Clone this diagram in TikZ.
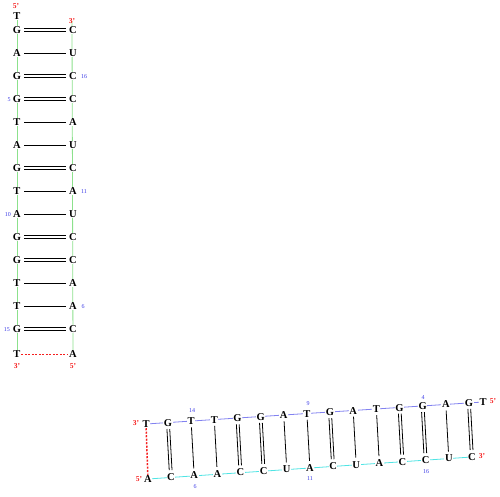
\documentclass[tikz,border=0pt]{standalone}
\usepackage{fontspec}
\setmainfont{Liberation Serif}
\usetikzlibrary{backgrounds}
\definecolor{strandgreen}{RGB}{140,225,140}
\definecolor{strandblue}{RGB}{130,130,240}
\definecolor{strandcyan}{RGB}{80,228,228}
\definecolor{lblblue}{RGB}{60,60,230}
\definecolor{primered}{RGB}{245,30,30}
\begin{document}
\begin{tikzpicture}[x=1pt,y=-1pt,
  base/.style={font=\fontsize{10.5}{12}\selectfont\bfseries, fill=white, inner sep=0.6pt},
  prime/.style={font=\fontsize{7.5}{8}\selectfont\bfseries, text=primered, inner sep=0pt},
  num/.style={font=\fontsize{6}{7}\selectfont, text=lblblue, inner sep=0pt},
  bondH/.style={black, line width=0.8pt, shorten <=7pt, shorten >=7pt},
  bondV/.style={black, line width=0.8pt, shorten <=6pt, shorten >=7pt},
  gline/.style={strandgreen, line width=0.8pt},
  bline/.style={strandblue, line width=0.8pt},
  cline/.style={strandcyan, line width=0.8pt},
  endpair/.style={primered, dash pattern=on 2pt off 1.5pt}
]
\useasboundingbox (0,0) rectangle (500,496);
% ---------- left ladder ----------
\node[base] (L0) at (17,16) {T};
\foreach \b [count=\k] in {G,A,G,G,T,A,G,T,A,G,G,T,T,G}
  \node[base] (L\k) at (17,{30+23*(\k-1)}) {\b};
\node[base] (L15) at (17,354) {T};
\foreach \b [count=\k] in {C,U,C,C,A,U,C,A,U,C,C,A,A,C}
  \node[base] (R\k) at (73,{30+23*(\k-1)}) {\b};
\node[base] (R15) at (73,354) {A};
\node[prime] (p5a) at (16,6) {5'};
\node[prime] (p3a) at (72,21) {3'};
\node[prime] (p3b) at (17,366) {3'};
\node[prime] (p5b) at (73,366) {5'};
\node[num] (n16) at (84,77) {16};
\node[num] (n5) at (9,100) {5};
\node[num] (n11) at (84,192) {11};
\node[num] (n10) at (8,215) {10};
\node[num] (n6) at (83,307) {6};
\node[num] (n15) at (7,330) {15};
\foreach \k in {1,3,4,7,10,11,14} {
  \draw[bondH] ([yshift=1.4pt]L\k.center) -- ([yshift=1.4pt]R\k.center);
  \draw[bondH] ([yshift=-1.4pt]L\k.center) -- ([yshift=-1.4pt]R\k.center);
}
\foreach \k in {2,5,6,8,9,12,13}
  \draw[bondH] (L\k.center) -- (R\k.center);
\draw[endpair, line width=0.8pt] (L15) -- (R15);
\begin{scope}[on background layer]
  \draw[gline] (L0.center) -- (L15.center);
  \draw[gline] (p3a.center) -- (R15.center);
\end{scope}
% ---------- bottom right duplex ----------
\node[base] (T0) at (146,424) {T};
\foreach \b [count=\i] in {G,T,T,G,G,A,T,G,A,T,G,G,A,G}
  \node[base] (T\i) at ({168+23.15*(\i-1)},{423-1.54*(\i-1)}) {\b};
\node[base] (T15) at (483,402) {T};
\node[base] (B0) at (148,479) {A};
\foreach \b [count=\j] in {C,A,A,C,C,U,A,C,U,A,C,C,U,C}
  \node[base] (B\j) at ({171+23.15*(\j-1)},{477-1.54*(\j-1)}) {\b};
\node[prime] (q3a) at (136,423) {3'};
\node[prime] (q5a) at (493,401) {5'};
\node[prime] (q5b) at (139,479) {5'};
\node[prime] (q3b) at (482,456) {3'};
\node[num] (m14) at (192,411) {14};
\node[num] (m9) at (308,404) {9};
\node[num] (m4) at (423,398) {4};
\node[num] (m6) at (195,487) {6};
\node[num] (m11) at (310,479) {11};
\node[num] (m16) at (426,472) {16};
\foreach \i in {1,4,5,8,11,12,14} {
  \draw[bondV] ([xshift=-1.4pt]T\i.center) -- ([xshift=-1.4pt]B\i.center);
  \draw[bondV] ([xshift=1.4pt]T\i.center) -- ([xshift=1.4pt]B\i.center);
}
\foreach \i in {2,3,6,7,9,10,13}
  \draw[bondV] (T\i.center) -- (B\i.center);
\draw[endpair, line width=1.5pt] (T0) -- (B0);
\begin{scope}[on background layer]
  \draw[bline] (T0.center) -- (T15.center);
  \draw[cline] (B0.center) -- (B14.center);
\end{scope}
\end{tikzpicture}
\end{document}
